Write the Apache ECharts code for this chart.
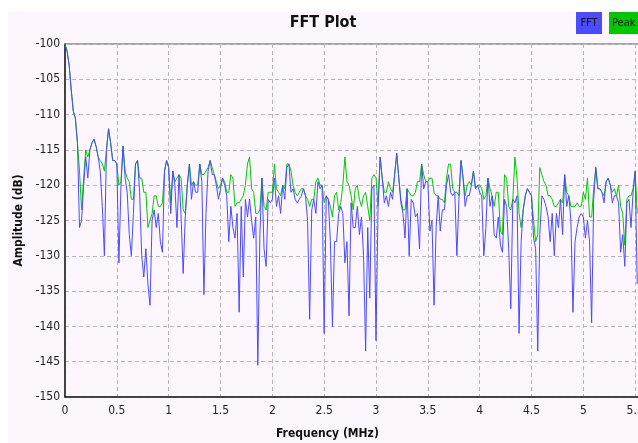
<!DOCTYPE html>
<html>
<head>
<meta charset="utf-8">
<script src="https://cdn.jsdelivr.net/npm/echarts@6/dist/echarts.min.js"></script>
<style>
html, body { margin: 0; padding: 0; background: #ffffff; width: 638px; height: 443px; overflow: hidden; }
#main { position: absolute; left: 8px; top: 12px; width: 630px; height: 431px; }
</style>
</head>
<body>
<div id="main"></div>
<script>
// frequency bins (MHz)
var freqs = [
    0,0.02,0.04,0.06,0.08,0.1,0.12,0.14,0.16,0.18,
    0.2,0.22,0.24,0.26,0.28,0.3,0.32,0.34,0.36,0.38,
    0.4,0.42,0.44,0.46,0.48,0.5,0.52,0.54,0.56,0.58,
    0.6,0.62,0.64,0.66,0.68,0.7,0.72,0.74,0.76,0.78,
    0.8,0.82,0.84,0.86,0.88,0.9,0.92,0.94,0.96,0.98,
    1,1.02,1.04,1.06,1.08,1.1,1.12,1.14,1.16,1.18,
    1.2,1.22,1.24,1.26,1.28,1.3,1.32,1.34,1.36,1.38,
    1.4,1.42,1.44,1.46,1.48,1.5,1.52,1.54,1.56,1.58,
    1.6,1.62,1.64,1.66,1.68,1.7,1.72,1.74,1.76,1.78,
    1.8,1.82,1.84,1.86,1.88,1.9,1.92,1.94,1.96,1.98,
    2,2.02,2.04,2.06,2.08,2.1,2.12,2.14,2.16,2.18,
    2.2,2.22,2.24,2.26,2.28,2.3,2.32,2.34,2.36,2.38,
    2.4,2.42,2.44,2.46,2.48,2.5,2.52,2.54,2.56,2.58,
    2.6,2.62,2.64,2.66,2.68,2.7,2.72,2.74,2.76,2.78,
    2.8,2.82,2.84,2.86,2.88,2.9,2.92,2.94,2.96,2.98,
    3,3.02,3.04,3.06,3.08,3.1,3.12,3.14,3.16,3.18,
    3.2,3.22,3.24,3.26,3.28,3.3,3.32,3.34,3.36,3.38,
    3.4,3.42,3.44,3.46,3.48,3.5,3.52,3.54,3.56,3.58,
    3.6,3.62,3.64,3.66,3.68,3.7,3.72,3.74,3.76,3.78,
    3.8,3.82,3.84,3.86,3.88,3.9,3.92,3.94,3.96,3.98,
    4,4.02,4.04,4.06,4.08,4.1,4.12,4.14,4.16,4.18,
    4.2,4.22,4.24,4.26,4.28,4.3,4.32,4.34,4.36,4.38,
    4.4,4.42,4.44,4.46,4.48,4.5,4.52,4.54,4.56,4.58,
    4.6,4.62,4.64,4.66,4.68,4.7,4.72,4.74,4.76,4.78,
    4.8,4.82,4.84,4.86,4.88,4.9,4.92,4.94,4.96,4.98,
    5,5.02,5.04,5.06,5.08,5.1,5.12,5.14,5.16,5.18,
    5.2,5.22,5.24,5.26,5.28,5.3,5.32,5.34,5.36,5.38,
    5.4,5.42,5.44,5.46,5.48,5.5,5.52
];

// FFT amplitude (dB)
var fftValues = [
    -100,-101,-103,-106.5,-109.5,-110.5,-114,-126,-125,-120,
    -116,-119,-115,-114,-113.5,-114.5,-116,-118,-123,-130,
    -115,-112,-114,-116.5,-116.5,-117,-131,-120,-114.5,-119,
    -121,-127,-130,-124,-117,-116.5,-121,-130,-133,-129,
    -134,-137,-125,-123.5,-126,-124,-128,-129.5,-118,-116.5,
    -117.5,-124,-118,-120,-126,-118.5,-124.5,-132.5,-124.5,-120,
    -117,-122,-119.5,-121,-121,-117,-119.5,-135.5,-124,-118,
    -116.5,-118.5,-118.5,-120,-122,-120.5,-119,-120,-121.5,-128,
    -123,-126,-127.5,-124,-138,-123,-133,-122,-124.5,-122,
    -125,-127.5,-124.5,-145.5,-127,-119,-129,-131.5,-122,-122.5,
    -122,-119,-123,-121.5,-124,-120,-122,-117.5,-117,-121,
    -120.5,-122,-122.5,-122,-121.5,-120.5,-121.5,-125,-139,-123.5,
    -122,-124,-119.5,-120.5,-120,-141,-121.5,-122,-128,-140,
    -128,-128,-124,-123,-124,-131,-128,-138.5,-122.5,-126,
    -126,-123,-127,-124.5,-130,-143.5,-126,-136,-120.5,-120,
    -142,-123,-116,-119,-122.5,-121.5,-123,-121,-122,-118.5,
    -115.5,-119,-122.5,-124,-127.5,-120.5,-130,-122,-122.5,-124.5,
    -124,-129,-117,-120.5,-119.5,-119.5,-126.5,-125,-137,-126,
    -121.5,-126.5,-123.5,-123.5,-120,-118.5,-121,-121.5,-121,-130,
    -122,-116.5,-119,-123,-121.5,-121.5,-120,-118,-120.5,-120,
    -121,-121.5,-130,-126,-119,-123,-121.5,-127,-127.5,-124.5,
    -128.5,-129.5,-122,-123,-129,-137.5,-122,-122.5,-121.5,-141,
    -128,-123.5,-121.5,-120.5,-121,-121.5,-127.5,-129,-143.5,-127,
    -121.5,-122,-123,-124.5,-128,-124,-130,-124,-126,-122,
    -127,-118.5,-123,-121.5,-125,-138,-128,-126,-124.5,-124,
    -124.5,-127.5,-125,-128,-139.5,-122,-117.5,-120.5,-120.5,-121,
    -122.5,-119.5,-119,-120,-122.5,-121.5,-121.5,-122.5,-129.5,-127,
    -131.5,-122.5,-122,-126,-121,-118,-134
];

// peak hold (dB)
var peakValues = [
    -100,-101,-103,-106.5,-109.5,-110.5,-114,-118,-123.5,-119,
    -115,-116,-115,-114,-113.5,-114.5,-116,-116.5,-117,-118,
    -115,-112,-114,-116.5,-116.5,-117,-120,-119.5,-114.5,-118,
    -119,-119.5,-122,-122,-117,-116.5,-119,-119,-121,-121,
    -126,-125,-124,-121.5,-121.5,-123,-123,-122.5,-118,-116.5,
    -117.5,-122.5,-118,-119.5,-119,-118.5,-119,-123.5,-124,-120,
    -117,-120,-119.5,-120,-120,-117,-118.5,-118.5,-118,-117.5,
    -116.5,-117.5,-118.5,-119.5,-120.5,-120,-119,-119.5,-121,-121,
    -118.5,-119,-123,-122.5,-122.5,-122,-121.5,-120,-117,-116,
    -120.5,-121,-124,-124,-123.5,-119,-123,-123.5,-121,-121,
    -121,-117,-120.5,-121,-121.5,-120,-120.5,-117,-117,-118,
    -120,-121,-121.5,-121,-120.5,-120.5,-121.5,-122,-123,-122,
    -122,-119.5,-119,-120,-120,-122.5,-121.5,-122,-123,-124.5,
    -121.5,-121,-123.5,-122.5,-120,-116,-119.5,-120,-121.5,-123.5,
    -120.5,-120,-122,-123,-121.5,-121,-123,-125,-119,-118.5,
    -119,-123,-116,-119,-121,-121,-119.5,-120.5,-121,-118.5,
    -115.5,-119,-122,-123.5,-123.5,-120.5,-121,-121.5,-121.5,-121,
    -119.5,-119.5,-117,-118.5,-119.5,-119.5,-119,-119,-121,-121.5,
    -121.5,-122,-122,-122.5,-119,-117,-117,-120.5,-121,-121,
    -121.5,-116.5,-119,-121.5,-120,-119.5,-120,-118,-120.5,-120,
    -120,-120.5,-122,-121.5,-119,-120.5,-121.5,-123,-121,-121,
    -126.5,-127,-118.5,-119,-123,-123.5,-122,-116,-119,-124,
    -126,-123.5,-121.5,-120.5,-121,-121.5,-125,-128,-127,-117.5,
    -118.5,-119.5,-120,-121.5,-121.5,-122,-123,-123,-122.5,-122,
    -122.5,-118.5,-121,-121.5,-123,-123,-123,-122.5,-123,-123,
    -121,-122,-119,-124.5,-124.5,-120.5,-117.5,-120.5,-120.5,-121,
    -121.5,-119.5,-119,-120,-121,-120.5,-121.5,-120,-123,-124,
    -128.5,-122,-121.5,-121.5,-120.5,-118,-124
];

var fftColor = '#4b4bff';
var peakColor = '#00c800';
var labelFont = "'DejaVu Sans Condensed', 'Liberation Sans Narrow', 'DejaVu Sans', sans-serif";

function pairs(vals) {
    var out = [];
    for (var i = 0; i < vals.length; i++) {
        out.push([freqs[i], vals[i]]);
    }
    return out;
}

var myChart = echarts.init(document.getElementById('main'));

var option = {
    animation: false,
    backgroundColor: '#fdf7fd',
    title: {
        text: 'FFT Plot',
        left: 'center',
        top: 3,
        padding: 0,
        textStyle: { fontFamily: labelFont, fontSize: 16, fontWeight: 'bold', color: '#111' }
    },
    grid: {
        left: 57,
        top: 32,
        width: 622,
        height: 353,
        containLabel: false,
        outerBoundsMode: 'none',
        show: true,
        borderColor: '#555',
        borderWidth: 1,
        backgroundColor: '#fdf7fd'
    },
    xAxis: {
        type: 'value',
        min: 0,
        max: 6,
        interval: 0.5,
        axisLine: { show: true, onZero: false, lineStyle: { color: '#222', width: 1.5 } },
        axisTick: { show: false },
        axisLabel: { margin: 8, fontSize: 12, color: '#222', fontFamily: labelFont },
        splitLine: { show: true, lineStyle: { color: '#b8b8b8', type: [4, 3], width: 1 } }
    },
    yAxis: {
        type: 'value',
        min: -150,
        max: -100,
        interval: 5,
        name: 'Amplitude (dB)',
        nameLocation: 'middle',
        nameGap: 40,
        nameTextStyle: { fontFamily: labelFont, fontSize: 12, fontWeight: 'bold', color: '#111' },
        axisLine: { show: true, onZero: false, lineStyle: { color: '#222', width: 1.5 } },
        axisTick: { show: false },
        axisLabel: { margin: 5, fontSize: 12, color: '#222', fontFamily: labelFont },
        splitLine: { show: true, lineStyle: { color: '#b8b8b8', type: [4, 3], width: 1 } }
    },
    graphic: [
        {
            type: 'text',
            left: 314 - 46,
            top: 416,
            style: { text: 'Frequency (MHz)', fontFamily: labelFont, fontSize: 12, fontWeight: 'bold', fill: '#111' }
        },
        {
            type: 'group',
            left: 568,
            top: 0,
            children: [
                { type: 'rect', shape: { x: 0, y: 0, width: 26, height: 22 }, style: { fill: fftColor } },
                { type: 'text', x: 13, y: 11, style: { text: 'FFT', align: 'center', verticalAlign: 'middle', fontFamily: labelFont, fontSize: 11, fill: '#111' } },
                { type: 'rect', shape: { x: 33, y: 0, width: 40, height: 22 }, style: { fill: peakColor } },
                { type: 'text', x: 36, y: 11, style: { text: 'Peak', align: 'left', verticalAlign: 'middle', fontFamily: labelFont, fontSize: 11, fill: '#111' } }
            ]
        }
    ],
    series: [
        {
            name: 'Peak',
            type: 'line',
            data: pairs(peakValues),
            showSymbol: false,
            symbol: 'none',
            lineStyle: { color: peakColor, width: 1 },
            z: 2
        },
        {
            name: 'FFT',
            type: 'line',
            data: pairs(fftValues),
            showSymbol: false,
            symbol: 'none',
            lineStyle: { color: fftColor, width: 1 },
            z: 3
        }
    ]
};

myChart.setOption(option);
</script>
</body>
</html>
